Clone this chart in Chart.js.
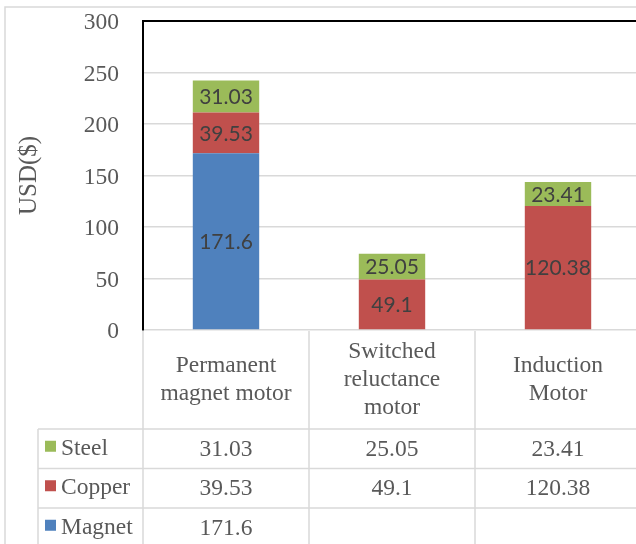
<!DOCTYPE html>
<html>
<head>
<meta charset="utf-8">
<script src="https://cdn.jsdelivr.net/npm/chart.js@4"></script>
<style>
  html, body { margin: 0; padding: 0; background: #fff; overflow: hidden; }
  #wrap { position: absolute; left: 0; top: 0; width: 642px; height: 544px; }
</style>
</head>
<body>
<div id="wrap"><canvas id="costChart" width="642" height="544"></canvas></div>
<script>
const categories = [
  ["Permanent", "magnet motor"],
  ["Switched", "reluctance", "motor"],
  ["Induction", "Motor"]
];
const magnet = [171.6, null, null];
const copper = [39.53, 49.1, 120.38];
const steel = [31.03, 25.05, 23.41];
const yTicks = [0, 50, 100, 150, 200, 250, 300];

const GRAY = "#d9d9d9";
const TEXT = "#595959";
const SERIF = "'Liberation Serif', 'Times New Roman', serif";

// frame around the whole chart object
const frame = {
  id: "frame",
  beforeDraw(chart) {
    const ctx = chart.ctx;
    ctx.save();
    ctx.fillStyle = "#fff";
    ctx.fillRect(0, 0, chart.width, chart.height);
    ctx.strokeStyle = GRAY;
    ctx.lineWidth = 1.5;
    ctx.beginPath();
    ctx.moveTo(5, chart.height);
    ctx.lineTo(5, 7);
    ctx.lineTo(chart.width, 7);
    ctx.stroke();
    ctx.restore();
  }
};

// numbers in the middle of each stacked segment
const segmentLabels = {
  id: "segmentLabels",
  afterDatasetsDraw(chart) {
    const ctx = chart.ctx;
    ctx.save();
    ctx.font = "21px Lato, 'Open Sans', sans-serif";
    ctx.fillStyle = "#404040";
    ctx.textAlign = "center";
    ctx.textBaseline = "middle";
    chart.data.datasets.forEach((ds, i) => {
      const meta = chart.getDatasetMeta(i);
      meta.data.forEach((bar, j) => {
        const v = ds.data[j];
        if (v == null) return;
        ctx.fillText(String(v), bar.x, (bar.y + bar.base) / 2 + 1);
      });
    });
    ctx.restore();
  }
};

// category labels and the data table under the axis
const dataTable = {
  id: "dataTable",
  afterDraw(chart) {
    const ctx = chart.ctx;
    const x = chart.scales.x;
    const y = chart.scales.y;
    const W = chart.width;
    const H = chart.height;
    const step = x.getPixelForValue(1) - x.getPixelForValue(0);
    const y0 = y.getPixelForValue(0);
    const headH = 99;
    const rowH = 39.5;
    const tableLeft = 38;
    const rows = chart.data.datasets.slice().reverse();

    ctx.save();
    ctx.strokeStyle = GRAY;
    ctx.lineWidth = 1.5;

    // vertical separators
    ctx.beginPath();
    for (let i = 0; i < categories.length; i++) {
      const bx = x.getPixelForValue(i) - step / 2;
      ctx.moveTo(bx, y0 + 1);
      ctx.lineTo(bx, H);
    }
    ctx.moveTo(tableLeft, y0 + headH);
    ctx.lineTo(tableLeft, H);
    // horizontal row lines
    for (let r = 0; r < rows.length; r++) {
      const ry = y0 + headH + r * rowH;
      ctx.moveTo(tableLeft, ry);
      ctx.lineTo(W, ry);
    }
    ctx.stroke();

    // category header
    ctx.fillStyle = TEXT;
    ctx.font = "23.5px " + SERIF;
    ctx.textAlign = "center";
    ctx.textBaseline = "middle";
    const lh = 28;
    categories.forEach((lines, i) => {
      const cx = x.getPixelForValue(i);
      const cy = y0 + headH / 2;
      lines.forEach((t, k) => {
        ctx.fillText(t, cx, cy + (k - (lines.length - 1) / 2) * lh);
      });
    });

    // rows: legend key, name, values
    rows.forEach((ds, r) => {
      const cy = y0 + headH + r * rowH + rowH / 2;
      ctx.fillStyle = ds.backgroundColor;
      ctx.fillRect(45, cy - 8, 11, 11);
      ctx.fillStyle = TEXT;
      ctx.textAlign = "left";
      ctx.fillText(ds.label, 61, cy);
      ctx.textAlign = "center";
      ds.data.forEach((v, j) => {
        if (v == null) return;
        ctx.fillText(String(v), x.getPixelForValue(j), cy + 1);
      });
    });
    ctx.restore();
  }
};

new Chart(document.getElementById("costChart"), {
  type: "bar",
  data: {
    labels: categories,
    datasets: [
      { label: "Magnet", data: magnet, backgroundColor: "#4f81bd" },
      { label: "Copper", data: copper, backgroundColor: "#c0504d" },
      { label: "Steel", data: steel, backgroundColor: "#9bbb59" }
    ]
  },
  options: {
    responsive: false,
    devicePixelRatio: 1,
    animation: false,
    layout: { padding: { top: 21, right: 1, bottom: 214, left: 0 } },
    datasets: { bar: { categoryPercentage: 1, barPercentage: 0.4 } },
    plugins: { legend: { display: false }, tooltip: { enabled: false } },
    scales: {
      x: { stacked: true, display: false },
      y: {
        stacked: true,
        min: 0,
        max: 300,
        afterBuildTicks(scale) { scale.ticks = yTicks.map(v => ({ value: v })); },
        afterFit(scale) {
          scale.width = 143;
          scale.paddingTop = 0;
          scale.paddingBottom = 0;
        },
        border: { display: true, color: "#000", width: 2 },
        grid: {
          drawTicks: false,
          color: c => c.tick.value === 300 ? "#000" : GRAY,
          lineWidth: c => c.tick.value === 300 ? 2 : 1.5
        },
        ticks: { color: TEXT, padding: 24, labelOffset: 2, font: { family: SERIF, size: 23.5 } },
        title: {
          display: true,
          text: "USD($)",
          color: TEXT,
          padding: { top: 14, bottom: 0 },
          font: { family: SERIF, size: 25 }
        }
      }
    }
  },
  plugins: [frame, segmentLabels, dataTable]
});
</script>
</body>
</html>
